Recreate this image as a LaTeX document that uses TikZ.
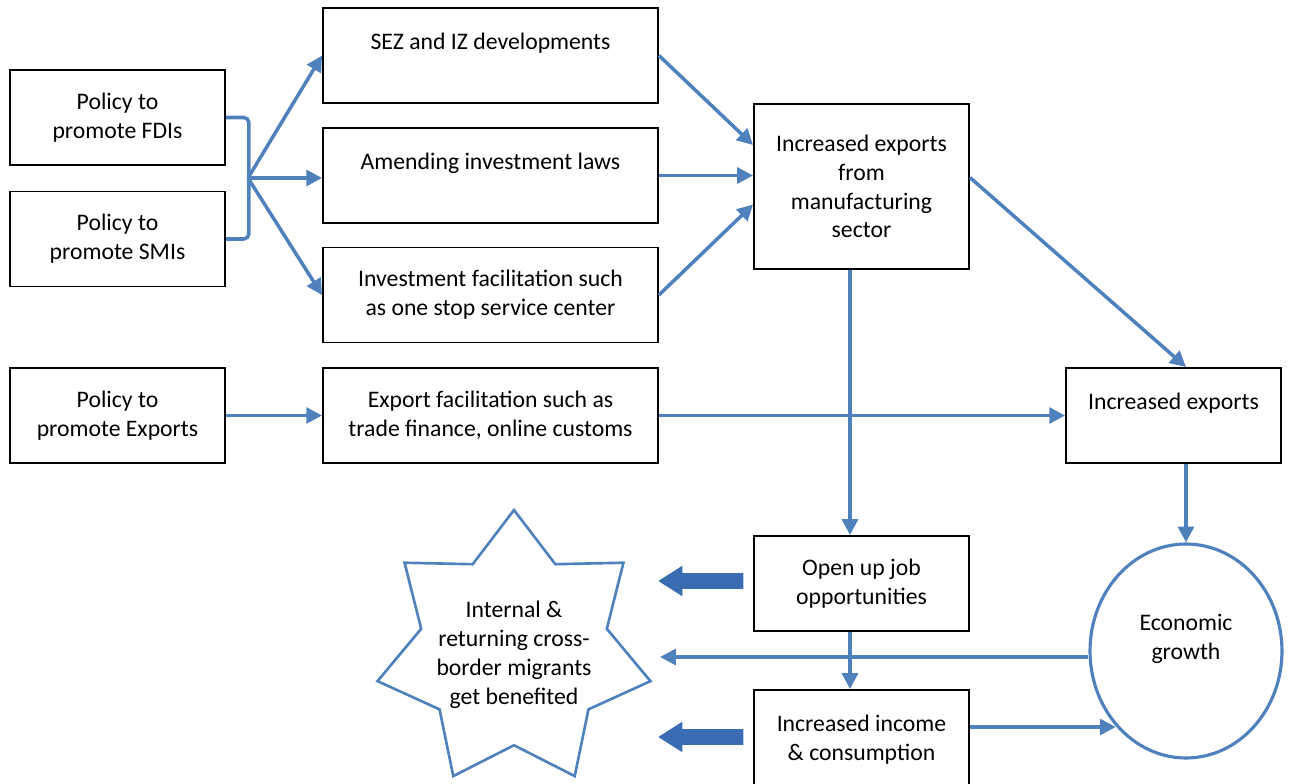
\documentclass[tikz,border=0pt]{standalone}
\usepackage{fontspec}
\setmainfont{Carlito}
\usetikzlibrary{arrows.meta,shapes.geometric,shapes.arrows}
\definecolor{lineblue}{RGB}{79,129,189}
\definecolor{arrowblue}{RGB}{58,108,180}

\begin{document}
\begin{tikzpicture}[x=0.02cm,y=-0.02cm,
  every node/.style={font=\fontsize{13.5}{16.4}\selectfont,align=center},
  box/.style={draw=black,line width=1.1pt,minimum width=4.3cm,minimum height=1.9cm,inner sep=0pt},
  widebox/.style={box,minimum width=6.7cm},
  conn/.style={draw=lineblue,line width=2pt,-{Triangle[length=9pt,width=9pt]}},
  fatarrow/.style={single arrow,fill=arrowblue,draw=none,shape border rotate=180,
    minimum height=1.7cm,inner sep=0pt,inner ysep=0.15cm,
    single arrow head extend=0.15cm,single arrow tip angle=65}]
\useasboundingbox (0,0) rectangle (1289,784);

\node[box] (fdi) at (117.5,117.5) {Policy to\\promote FDIs};
\node[box] (smi) at (117.5,239) {Policy to\\promote SMIs};
\node[box] (expo) at (117.5,415.5) {Policy to\\promote Exports};

\node[widebox] (sez) at (490.5,55.5) {SEZ and IZ developments\\\mbox{}};
\node[widebox] (amd) at (490.5,175.5) {Amending investment laws\\\mbox{}};
\node[widebox] (inv) at (490.5,295) {Investment facilitation such\\as one stop service center};
\node[widebox] (expf) at (490.5,415.5) {Export facilitation such as\\trade finance, online customs};

\node[box,minimum height=3.3cm] (mfg) at (861.5,186.5) {Increased exports\\from\\manufacturing\\sector};
\node[box] (ie) at (1173.5,415.5) {Increased exports\\\mbox{}};
\node[box] (job) at (861.5,583.5) {Open up job\\opportunities};
\node[box,minimum height=2cm] (inc) at (861.5,740) {Increased income\\\& consumption};

\node[ellipse,draw=lineblue,line width=1.8pt,minimum width=3.84cm,minimum height=4.28cm,inner sep=0pt]
  (eg) at (1186,651) {Economic\\growth\\\mbox{}};

\node[star,star points=7,star point ratio=1.47,draw=lineblue,line width=1.5pt,
  minimum size=5.6cm,inner sep=0pt] (star) at (514,650) {};
\node (mig_text) at (514,655) {Internal \&\\returning cross-\\border migrants\\get benefited};

\node[fatarrow] (fat1) at (707,581) {};
\node[fatarrow] (fat2) at (707,737) {};

\draw[lineblue,line width=2pt,rounded corners=3pt] (fdi.east) -- ++(23,0) |- (smi.east);
\coordinate (br) at (248,178);
\draw[conn] (br) -- (sez.west);
\draw[conn] (br) -- (br -| amd.west);
\draw[conn] (br) -- (inv.west);

\draw[conn] (sez.east) -- ([yshift=0.83cm]mfg.west);
\draw[conn] (amd.east) -- (amd.east -| mfg.west);
\draw[conn] (inv.east) -- ([yshift=-0.36cm]mfg.west);

\draw[conn] (expo.east) -- (expf.west);
\draw[conn] (expf.east) -- (ie.west);

\draw[conn] ([yshift=0.18cm]mfg.east) -- (ie.north -| eg.north);
\draw[conn] ([xshift=-0.23cm]mfg.south) -- ([xshift=-0.23cm]job.north);
\draw[conn] ([xshift=-0.23cm]job.south) -- ([xshift=-0.23cm]inc.north);
\draw[conn] (ie.south -| eg.north) -- (eg.north);

\coordinate (mig) at (660,657);
\draw[conn] (eg.west |- mig) -- (mig);
\coordinate (inc_r) at ([yshift=0.26cm]inc.east);
\draw[conn] (inc_r) -- (inc_r -| eg.227);

\end{tikzpicture}
\end{document}
